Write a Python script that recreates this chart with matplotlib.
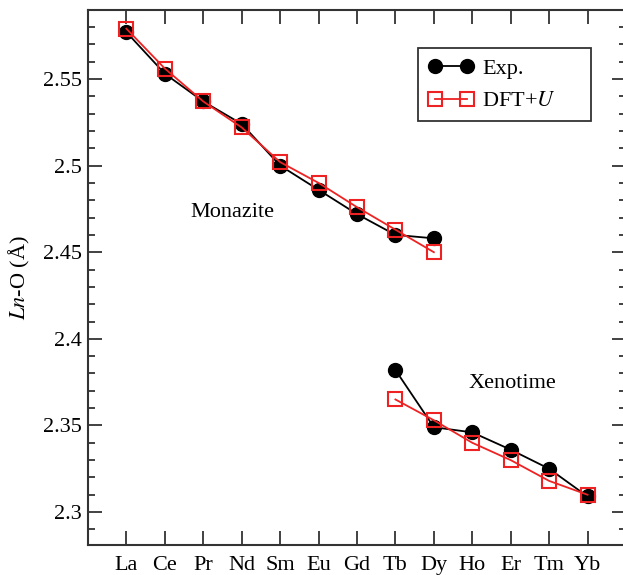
import matplotlib
matplotlib.use("Agg")
import matplotlib.pyplot as plt
from matplotlib.ticker import MultipleLocator

# lanthanides along the series
elements = ["La", "Ce", "Pr", "Nd", "Sm", "Eu", "Gd", "Tb", "Dy", "Ho", "Er", "Tm", "Yb"]

# monazite branch (La..Dy)
mon_exp = [2.577, 2.553, 2.537, 2.524, 2.500, 2.486, 2.472, 2.460, 2.458]
mon_dft = [2.579, 2.556, 2.537, 2.522, 2.502, 2.490, 2.476, 2.463, 2.450]

# xenotime branch (Tb..Yb)
xen_exp = [2.382, 2.349, 2.346, 2.336, 2.325, 2.309]
xen_dft = [2.365, 2.353, 2.340, 2.330, 2.318, 2.310]

plt.rcParams['font.family'] = ['Liberation Serif', 'DejaVu Serif']
plt.rcParams['mathtext.fontset'] = 'stix'

fig = plt.figure(figsize=(6.23, 5.75), dpi=100)
ax = fig.add_axes([88 / 623, 1 - 545 / 575, 538 / 623, 535 / 575])

x_mon = list(range(len(mon_exp)))
x_xen = list(range(7, 7 + len(xen_exp)))

exp_style = dict(color='black', marker='o', markersize=10, linewidth=1.3,
                 markerfacecolor='black', markeredgecolor='black')
dft_style = dict(color='#ee2222', marker='s', markersize=9.5, linewidth=1.3,
                 markerfacecolor='none', markeredgecolor='#ee2222', markeredgewidth=1.5)

ax.plot(x_mon, mon_exp, label='Exp.', **exp_style)
ax.plot(x_mon, mon_dft, label='DFT+$\\mathit{U}$', **dft_style)
ax.plot(x_xen, xen_exp, **exp_style)
ax.plot(x_xen, xen_dft, **dft_style)

ax.set_xlim(-1, 13)
ax.set_ylim(2.281, 2.5898)
ax.set_xticks(range(len(elements)))
ax.set_xticklabels(elements)
ax.set_yticks([2.3, 2.35, 2.4, 2.45, 2.5, 2.55])
ax.set_yticklabels(['2.3', '2.35', '2.4', '2.45', '2.5', '2.55'])
ax.yaxis.set_minor_locator(MultipleLocator(0.01))

ax.tick_params(which='both', direction='in', top=True, right=True, labelsize=16,
               color='#333333', width=1.3)
ax.tick_params(which='major', length=10)
ax.tick_params(which='minor', length=5)
ax.tick_params(axis='x', pad=8)
ax.tick_params(axis='y', pad=4.5)
for s in ax.spines.values():
    s.set_linewidth(1.5)
    s.set_color('#333333')

ax.set_ylabel('$\\mathit{Ln}$-O (Å)', fontsize=16, labelpad=8)

ax.text(1.67, 2.4732, 'Monazite', fontsize=16, ha='left', va='center')
ax.text(8.9, 2.3743, 'Xenotime', fontsize=16, ha='left', va='center')

# legend box stretched to the same width as in the paper figure
leg = ax.legend(loc='upper left', bbox_to_anchor=(0.6134, 0.6, 0.3216, 0.329),
                mode='expand', fontsize=16, borderaxespad=0, numpoints=2,
                fancybox=False, framealpha=1, edgecolor='#333333',
                handlelength=2.05, handletextpad=0.4, borderpad=0.45,
                labelspacing=0.55)
leg.get_frame().set_linewidth(1.3)

fig.savefig('out.png', dpi=100)
